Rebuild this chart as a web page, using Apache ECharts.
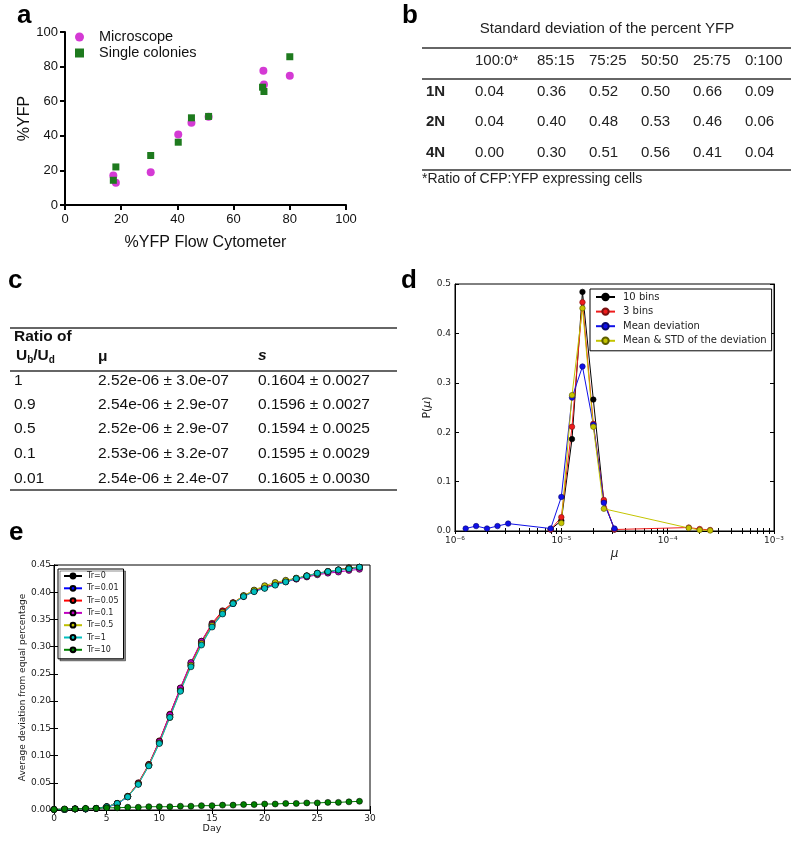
<!DOCTYPE html>
<html><head><meta charset="utf-8">
<script src="https://cdn.jsdelivr.net/npm/echarts@6/dist/echarts.min.js"></script>
<style>html,body{margin:0;padding:0;background:#fff}#main{width:800px;height:844px}</style>
</head><body><div id="main"></div>
<script>
// ---------- Panel a data ----------
const aMicroX = [17.2, 18.1, 30.5, 40.3, 45.0, 51.1, 70.6, 70.8, 80.0];
const aMicroY = [17.0, 12.9, 18.9, 40.7, 47.5, 51.0, 77.6, 69.7, 74.7];
const aColX = [17.2, 18.1, 30.5, 40.3, 45.0, 51.1, 70.3, 70.8, 80.0];
const aColY = [14.3, 22.0, 28.6, 36.3, 50.4, 51.2, 68.1, 65.6, 85.7];
const aTicks = [0, 20, 40, 60, 80, 100];

// ---------- Panel b data ----------
const bTitle = 'Standard deviation of the percent YFP';
const bColumns = ['100:0*', '85:15', '75:25', '50:50', '25:75', '0:100'];
const bRows = ['1N', '2N', '4N'];
const bRow1N = ['0.04', '0.36', '0.52', '0.50', '0.66', '0.09'];
const bRow2N = ['0.04', '0.40', '0.48', '0.53', '0.46', '0.06'];
const bRow4N = ['0.00', '0.30', '0.51', '0.56', '0.41', '0.04'];
const bNote = '*Ratio of CFP:YFP expressing cells';

// ---------- Panel c data ----------
const cRatios = ['1', '0.9', '0.5', '0.1', '0.01'];
const cMu = ['2.52e-06 ± 3.0e-07', '2.54e-06 ± 2.9e-07', '2.52e-06 ± 2.9e-07', '2.53e-06 ± 3.2e-07', '2.54e-06 ± 2.4e-07'];
const cS = ['0.1604 ± 0.0027', '0.1596 ± 0.0027', '0.1594 ± 0.0025', '0.1595 ± 0.0029', '0.1605 ± 0.0030'];

// ---------- Panel d data ----------
const dX10 = [7.94e-6, 1.0e-5, 1.26e-5, 1.58e-5, 2.0e-5, 2.51e-5, 3.16e-5];
const dY10 = [0.003, 0.021, 0.186, 0.484, 0.266, 0.060, 0.003];
const dX3 = [7.94e-6, 1.0e-5, 1.26e-5, 1.58e-5, 2.0e-5, 2.51e-5, 3.16e-5, 1.58e-4, 2.0e-4, 2.51e-4];
const dY3 = [0.003, 0.028, 0.211, 0.463, 0.217, 0.063, 0.003, 0.007, 0.004, 0.002];
const dXMean = [1.26e-6, 1.58e-6, 2.0e-6, 2.51e-6, 3.16e-6, 7.94e-6, 1.0e-5, 1.26e-5, 1.58e-5, 2.0e-5, 2.51e-5, 3.16e-5];
const dYMean = [0.005, 0.010, 0.005, 0.010, 0.015, 0.005, 0.069, 0.270, 0.333, 0.215, 0.057, 0.005];
const dXStd = [1.0e-5, 1.26e-5, 1.58e-5, 2.0e-5, 2.51e-5, 1.58e-4, 2.0e-4, 2.51e-4];
const dYStd = [0.016, 0.275, 0.451, 0.211, 0.045, 0.006, 0.002, 0.001];
const dLogTicks = [1e-6, 2e-6, 3e-6, 4e-6, 5e-6, 6e-6, 7e-6, 8e-6, 9e-6,
                   1e-5, 2e-5, 3e-5, 4e-5, 5e-5, 6e-5, 7e-5, 8e-5, 9e-5,
                   1e-4, 2e-4, 3e-4, 4e-4, 5e-4, 6e-4, 7e-4, 8e-4, 9e-4, 1e-3];
const dLabelTicks = [1e-6, 1e-5, 1e-4, 1e-3];

// ---------- Panel e data ----------
const eDays = [0,1,2,3,4,5,6,7,8,9,10,11,12,13,14,15,16,17,18,19,20,21,22,23,24,25,26,27,28,29];
const eTr0   = [0.001,0.001,0.002,0.002,0.003,0.006,0.012,0.025,0.049,0.083,0.126,0.175,0.223,0.268,0.308,0.340,0.364,0.380,0.393,0.403,0.409,0.415,0.420,0.425,0.430,0.434,0.438,0.441,0.445,0.446];
const eTr001 = [0.001,0.001,0.002,0.002,0.003,0.005,0.011,0.024,0.048,0.082,0.124,0.172,0.220,0.265,0.305,0.337,0.361,0.379,0.392,0.402,0.408,0.414,0.420,0.425,0.429,0.434,0.437,0.440,0.443,0.445];
const eTr005 = [0.001,0.001,0.002,0.002,0.003,0.006,0.012,0.025,0.050,0.084,0.127,0.176,0.224,0.270,0.310,0.343,0.366,0.381,0.393,0.402,0.409,0.415,0.420,0.425,0.430,0.435,0.438,0.441,0.444,0.446];
const eTr01  = [0.001,0.001,0.002,0.002,0.003,0.006,0.012,0.025,0.049,0.083,0.126,0.175,0.224,0.271,0.310,0.341,0.364,0.380,0.393,0.402,0.408,0.414,0.419,0.424,0.428,0.432,0.435,0.437,0.440,0.442];
const eTr05  = [0.001,0.001,0.002,0.002,0.003,0.006,0.012,0.025,0.048,0.082,0.123,0.170,0.219,0.266,0.306,0.339,0.363,0.380,0.394,0.404,0.412,0.418,0.422,0.426,0.430,0.434,0.438,0.441,0.444,0.446];
const eTr1   = [0.001,0.001,0.002,0.002,0.003,0.006,0.012,0.024,0.047,0.081,0.122,0.170,0.218,0.263,0.303,0.336,0.360,0.379,0.392,0.401,0.407,0.413,0.419,0.425,0.430,0.435,0.438,0.441,0.443,0.446];
const eTr10  = [0.001,0.002,0.002,0.003,0.003,0.004,0.004,0.005,0.005,0.006,0.006,0.006,0.007,0.007,0.008,0.008,0.009,0.009,0.010,0.010,0.011,0.011,0.012,0.012,0.013,0.013,0.014,0.014,0.015,0.016];
const eNames = ['Tr=0','Tr=0.01','Tr=0.05','Tr=0.1','Tr=0.5','Tr=1','Tr=10'];

// ---------- helpers ----------
const SANS = '"Liberation Sans", Arial, sans-serif';
const DJ = '"DejaVu Sans", sans-serif';
const zip = (xs, ys) => xs.map((x, i) => [x, ys[i]]);
const SUP = {'-':'⁻','0':'⁰','1':'¹','2':'²','3':'³','4':'⁴','5':'⁵','6':'⁶','7':'⁷','8':'⁸','9':'⁹'};
const supStr = s => String(s).split('').map(c => SUP[c] || c).join('');

function txt(x, y, text, font, opt) {
  opt = opt || {};
  return { type: 'text', x: x, y: y, silent: true, z: 10,
    style: { text: text, font: font, fill: opt.fill || '#111',
      textAlign: opt.align || 'left', textVerticalAlign: opt.valign || 'middle' } };
}
function hline(x1, x2, y, w) {
  return { type: 'line', silent: true, z: 10, shape: { x1: x1, y1: y, x2: x2, y2: y },
    style: { stroke: '#333', lineWidth: w || 1.5 } };
}

// ---------- tables (graphic) ----------
const graphics = [];
graphics.push(txt(17, 16, 'a', 'bold 26px ' + SANS, {fill:'#000'}));
graphics.push(txt(402, 16, 'b', 'bold 26px ' + SANS, {fill:'#000'}));
graphics.push(txt(8, 281, 'c', 'bold 26px ' + SANS, {fill:'#000'}));
graphics.push(txt(401, 281, 'd', 'bold 26px ' + SANS, {fill:'#000'}));
graphics.push(txt(9, 533, 'e', 'bold 26px ' + SANS, {fill:'#000'}));

// panel b
const B = { left: 422, right: 791, titleX: 607, titleY: 29, lines: [48, 79, 170], headerY: 61,
  rowY: [92, 122, 153], labelX: 426, colX: [475, 537, 589, 641, 693, 745], noteY: 179 };
const bFont = '15px ' + SANS;
graphics.push(txt(B.titleX, B.titleY, bTitle, bFont, {align:'center', fill:'#222'}));
B.lines.forEach(y => graphics.push(hline(B.left, B.right, y, 1.6)));
bColumns.forEach((c, i) => graphics.push(txt(B.colX[i], B.headerY, c, bFont, {fill:'#222'})));
[bRow1N, bRow2N, bRow4N].forEach((row, r) => {
  graphics.push(txt(B.labelX, B.rowY[r], bRows[r], 'bold 15px ' + SANS, {fill:'#222'}));
  row.forEach((v, i) => graphics.push(txt(B.colX[i], B.rowY[r], v, bFont, {fill:'#222'})));
});
graphics.push(txt(B.left, B.noteY, bNote, '14px ' + SANS, {fill:'#222'}));

// panel c
const C = { left: 10, right: 397, lines: [328, 371, 490], rowY: [381, 405, 429, 454, 479], colX: [14, 98, 258] };
const cFont = '15.5px ' + SANS;
const cBold = 'bold 15.5px ' + SANS;
const cSub = 'bold 10px ' + SANS;
C.lines.forEach(y => graphics.push(hline(C.left, C.right, y, 1.6)));
graphics.push(txt(C.colX[0], 337, 'Ratio of', cBold));
graphics.push(txt(16, 356, 'U', cBold));
graphics.push(txt(27.2, 360, 'b', cSub));
graphics.push(txt(33.3, 356, '/U', cBold));
graphics.push(txt(48.8, 360, 'd', cSub));
graphics.push(txt(C.colX[1], 357, 'μ', cBold));
graphics.push(txt(C.colX[2], 356, 's', 'italic bold 15.5px ' + SANS));
cRatios.forEach((r, i) => {
  graphics.push(txt(C.colX[0], C.rowY[i], r, cFont));
  graphics.push(txt(C.colX[1], C.rowY[i], cMu[i], cFont));
  graphics.push(txt(C.colX[2], C.rowY[i], cS[i], cFont));
});

// ---------- chart ----------
const chart = echarts.init(document.getElementById('main'), null, { width: 800, height: 844 });

const mplLabel = { fontFamily: DJ, fontSize: 9, color: '#222' };
const inTick = { show: true, inside: true, length: 4, lineStyle: { color: '#000', width: 1 } };
const logTick = { show: true, inside: true, length: 3, customValues: dLogTicks, lineStyle: { color: '#000', width: 1 } };
const blackLine = { show: true, lineStyle: { color: '#000', width: 1 } };

function lineSeries(name, data, color, xi, yi, size, border) {
  return { type: 'line', name: name, data: data, xAxisIndex: xi, yAxisIndex: yi,
    symbol: 'circle', symbolSize: size, showSymbol: true,
    lineStyle: { color: color, width: 1 },
    itemStyle: { color: color, borderColor: border, borderWidth: 0.6 },
    emphasis: { disabled: true }, z: 3 };
}

const eColors = ['#000000', '#0000ff', '#ff0000', '#bf00bf', '#bfbf00', '#00bfbf', '#008000'];
const eData = [eTr0, eTr001, eTr005, eTr01, eTr05, eTr1, eTr10];

const option = {
  animation: false,
  backgroundColor: '#fff',
  textStyle: { fontFamily: SANS },
  graphic: graphics,
  grid: [
    { left: 65, top: 32, width: 281, height: 173 },
    { left: 455, top: 284, width: 319, height: 247, show: true, borderColor: '#000', borderWidth: 1 },
    { left: 54, top: 565, width: 316, height: 245, show: true, borderColor: '#000', borderWidth: 1 }
  ],
  xAxis: [
    { gridIndex: 0, type: 'value', min: aTicks[0], max: aTicks[aTicks.length - 1], interval: 20,
      axisLine: { show: true, lineStyle: { color: '#000', width: 2 } },
      axisTick: { show: true, length: 5, lineStyle: { color: '#000', width: 2 } },
      splitLine: { show: false },
      axisLabel: { fontFamily: SANS, fontSize: 13, color: '#111', margin: 8 },
      name: '%YFP Flow Cytometer', nameLocation: 'middle', nameGap: 30,
      nameTextStyle: { fontFamily: SANS, fontSize: 16, color: '#111' } },
    { gridIndex: 1, type: 'log', logBase: 10, min: 1e-6, max: 1e-3, splitNumber: 3,
      axisLine: blackLine, axisTick: logTick, splitLine: { show: false },
      axisLabel: Object.assign({}, mplLabel, { margin: 5, customValues: dLabelTicks,
        formatter: v => '10' + supStr(Math.round(Math.log10(v))) }),
      name: 'μ', nameLocation: 'middle', nameGap: 17,
      nameTextStyle: { fontFamily: DJ, fontSize: 12, fontStyle: 'italic', color: '#222' } },
    { gridIndex: 1, type: 'log', logBase: 10, min: 1e-6, max: 1e-3, splitNumber: 3, position: 'top',
      axisLine: blackLine, axisTick: logTick, splitLine: { show: false }, axisLabel: { show: false } },
    { gridIndex: 2, type: 'value', min: 0, max: 30, interval: 5,
      axisLine: blackLine, axisTick: inTick, splitLine: { show: false },
      axisLabel: Object.assign({}, mplLabel, { margin: 4 }),
      name: 'Day', nameLocation: 'middle', nameGap: 14,
      nameTextStyle: { fontFamily: DJ, fontSize: 9.5, color: '#222' } },
    { gridIndex: 2, type: 'value', min: 0, max: 30, interval: 5, position: 'top',
      axisLine: blackLine, axisTick: inTick, splitLine: { show: false }, axisLabel: { show: false } }
  ],
  yAxis: [
    { gridIndex: 0, type: 'value', min: aTicks[0], max: aTicks[aTicks.length - 1], interval: 20,
      axisLine: { show: true, lineStyle: { color: '#000', width: 2 } },
      axisTick: { show: true, length: 5, lineStyle: { color: '#000', width: 2 } },
      splitLine: { show: false },
      axisLabel: { fontFamily: SANS, fontSize: 13, color: '#111', margin: 7 },
      name: '%YFP', nameLocation: 'middle', nameGap: 27,
      nameTextStyle: { fontFamily: SANS, fontSize: 16, color: '#111' } },
    { gridIndex: 1, type: 'value', min: 0, max: 0.5, interval: 0.1,
      axisLine: blackLine, axisTick: inTick, splitLine: { show: false },
      axisLabel: Object.assign({}, mplLabel, { margin: 4, formatter: v => v.toFixed(1) }),
      name: 'P({i|μ})', nameLocation: 'middle', nameGap: 19,
      nameTextStyle: { fontFamily: DJ, fontSize: 11, color: '#222',
        rich: { i: { fontFamily: DJ, fontSize: 11, fontStyle: 'italic', color: '#222' } } } },
    { gridIndex: 1, type: 'value', min: 0, max: 0.5, interval: 0.1, position: 'right',
      axisLine: blackLine, axisTick: inTick, splitLine: { show: false }, axisLabel: { show: false } },
    { gridIndex: 2, type: 'value', min: 0, max: 0.45, interval: 0.05,
      axisLine: blackLine, axisTick: inTick, splitLine: { show: false },
      axisLabel: Object.assign({}, mplLabel, { margin: 3, formatter: v => v.toFixed(2) }),
      name: 'Average deviation from equal percentage', nameLocation: 'middle', nameGap: 24,
      nameTextStyle: { fontFamily: DJ, fontSize: 9, color: '#222' } },
    { gridIndex: 2, type: 'value', min: 0, max: 0.45, interval: 0.05, position: 'right',
      axisLine: blackLine, axisTick: inTick, splitLine: { show: false }, axisLabel: { show: false } }
  ],
  legend: [
    { data: [{ name: 'Microscope', icon: 'circle' }, { name: 'Single colonies', icon: 'rect' }],
      orient: 'vertical', left: 75, top: 29,
      itemWidth: 9, itemHeight: 9, itemGap: 0, padding: 0,
      textStyle: { fontFamily: SANS, fontSize: 14.5, color: '#111', lineHeight: 16, padding: [0, 0, 0, 10] } },
    { data: ['10 bins', '3 bins', 'Mean deviation', 'Mean & STD of the deviation'],
      orient: 'vertical', left: 590, top: 289, itemWidth: 19, itemHeight: 8, itemGap: 2.6,
      padding: [2, 5, 4, 5], borderColor: '#000', borderWidth: 1, backgroundColor: '#fff',
      textStyle: { fontFamily: DJ, fontSize: 10, color: '#222', lineHeight: 12, padding: [0, 0, 0, 3] } },
    { data: eNames, orient: 'vertical', left: 58, top: 569, itemWidth: 18, itemHeight: 6, itemGap: 2.3,
      padding: [2, 5, 4, 5], borderColor: '#000', borderWidth: 1, backgroundColor: '#fff',
      shadowColor: 'rgba(0,0,0,0.45)', shadowOffsetX: 2, shadowOffsetY: 2, shadowBlur: 0,
      textStyle: { fontFamily: DJ, fontSize: 8, color: '#222', lineHeight: 10 } }
  ],
  series: [
    { type: 'scatter', name: 'Microscope', xAxisIndex: 0, yAxisIndex: 0, data: zip(aMicroX, aMicroY),
      symbol: 'circle', symbolSize: 8, itemStyle: { color: '#d43ad4', opacity: 1 }, emphasis: { disabled: true } },
    { type: 'scatter', name: 'Single colonies', xAxisIndex: 0, yAxisIndex: 0, data: zip(aColX, aColY),
      symbol: 'rect', symbolSize: 7, itemStyle: { color: '#1e7a1e', opacity: 1 }, emphasis: { disabled: true } },
    lineSeries('10 bins', zip(dX10, dY10), '#000000', 1, 1, 5.5, '#000'),
    lineSeries('3 bins', zip(dX3, dY3), '#ee1c1c', 1, 1, 5.5, '#7a1010'),
    lineSeries('Mean deviation', zip(dXMean, dYMean), '#1010e8', 1, 1, 5.5, '#08086e'),
    lineSeries('Mean & STD of the deviation', zip(dXStd, dYStd), '#c4c400', 1, 1, 5.5, '#5e5e00')
  ].concat(eNames.map((n, k) => lineSeries(n, zip(eDays, eData[k]), eColors[k], 3, 3, 6, '#000')))
};
chart.setOption(option);
</script>
</body></html>
